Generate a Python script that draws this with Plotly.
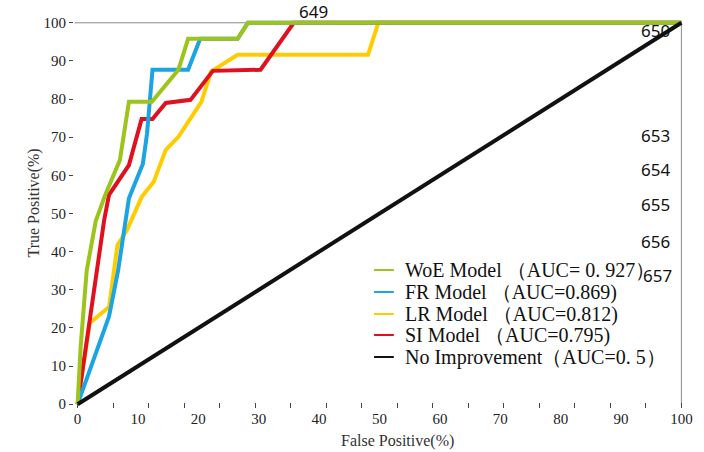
import plotly.graph_objects as go

# ---- data ----
woe_x = [0, 0.5, 1.5, 3.0, 4.6, 7.0, 8.5, 12.3, 16.7, 18.3, 26.5, 28.2, 100]
woe_y = [0, 15, 35, 48, 55, 64, 79.3, 79.3, 87.7, 95.8, 95.8, 100, 100]

fr_x = [0, 5.2, 6.7, 7.7, 8.5, 10.8, 11.5, 12.4, 18.3, 20.3, 26.5, 28.2, 100]
fr_y = [0, 23, 35, 46, 54, 63, 71, 87.7, 87.7, 95.8, 95.8, 100, 100]

lr_x = [0, 2.0, 5.2, 6.6, 8.2, 10.6, 12.6, 14.6, 16.7, 20.5, 22.1, 26.5, 48.1, 49.8, 100]
lr_y = [0, 21.3, 25.5, 41.7, 45.7, 54.3, 58.3, 66.7, 70.1, 79.3, 87.2, 91.6, 91.6, 100, 100]

si_x = [0, 4.4, 5.2, 8.5, 10.6, 12.4, 14.6, 18.7, 22.4, 30.3, 35.8, 100]
si_y = [0, 48.3, 54.9, 62.7, 74.8, 74.8, 79.0, 79.8, 87.4, 87.7, 100, 100]

ni_x = [0, 100]
ni_y = [0, 100]

names = ["WoE Model （AUC= 0. 927）", "FR Model （AUC=0.869)", "LR Model （AUC=0.812)",
         "SI Model （AUC=0.795)", "No Improvement（AUC=0. 5）"]
colors = ["#9DC41A", "#1AA5E2", "#FFCC00", "#E0101E", "#111111"]

x_ticks = list(range(0, 101, 10))
y_ticks = list(range(0, 101, 10))

page_numbers = ["649", "650", "653", "654", "655", "656", "657"]

# ---- figure ----
W, H = 704, 452
ml, mr, mt, mb = 74, 11, 19, 44

fig = go.Figure()

series = [(woe_x, woe_y), (fr_x, fr_y), (lr_x, lr_y), (si_x, si_y), (ni_x, ni_y)]
draw_order = [2, 3, 1, 0, 4]
for i in draw_order:
    xs, ys = series[i]
    fig.add_trace(go.Scatter(x=xs, y=ys, mode="lines", name=names[i], showlegend=False,
                             line=dict(color=colors[i], width=4), hoverinfo="skip"))

# frame: top and right gray lines
fig.add_shape(type="line", xref="x", yref="y", x0=-0.5, x1=100, y0=100, y1=100,
              line=dict(color="#8a8a8a", width=1), layer="below")
fig.add_shape(type="line", xref="x", yref="y", x0=100, x1=100, y0=0, y1=100,
              line=dict(color="#8a8a8a", width=1), layer="below")

def px2paper(px, py):
    return (px - ml) / (W - ml - mr), (H - mb - py) / (H - mt - mb)

serif = "Liberation Serif, Times New Roman, serif"

# legend (built as text + short line keys, to match the tight row spacing)
leg_x0, leg_x1, leg_tx = 378, 398, 407
leg_rows = [270, 292, 314, 335, 357]
for i, (name, col) in enumerate(zip(names, colors)):
    x0, y0 = px2paper(leg_x0, leg_rows[i])
    x1, _ = px2paper(leg_x1, leg_rows[i])
    fig.add_shape(type="line", xref="paper", yref="paper", x0=x0, x1=x1, y0=y0, y1=y0,
                  line=dict(color=col, width=2))
    tx, _ = px2paper(leg_tx, leg_rows[i])
    fig.add_annotation(text=name, xref="paper", yref="paper", x=tx, y=y0,
                       xanchor="left", yanchor="middle", showarrow=False,
                       font=dict(family=serif, size=20, color="#111"))

# axis titles
ax, ay = px2paper(402, 441)
fig.add_annotation(text="False Positive(%)", xref="paper", yref="paper", x=ax, y=ay,
                   xanchor="center", yanchor="middle",
                   showarrow=False, font=dict(family=serif, size=16, color="#333"))
ax, ay = px2paper(33, 203)
fig.add_annotation(text="True Positive(%)", xref="paper", yref="paper", x=ax, y=ay,
                   xanchor="center", yanchor="middle",
                   textangle=-90, showarrow=False, font=dict(family=serif, size=16, color="#333"))

# page / line number artifacts
pn_pos = [(317, 11, "center"), (646, 31, "left"), (646, 135, "left"), (646, 170, "left"),
          (646, 205, "left"), (646, 241, "left"), (648, 275, "left")]
for t, (px, py, anc) in zip(page_numbers, pn_pos):
    ax, ay = px2paper(px, py)
    fig.add_annotation(text=t, xref="paper", yref="paper", x=ax, y=ay, xanchor=anc,
                       yanchor="middle", showarrow=False,
                       font=dict(family="Noto Sans, sans-serif", size=17, color="#111"))

fig.update_layout(
    width=W, height=H,
    margin=dict(l=ml, r=mr, t=mt, b=mb),
    paper_bgcolor="white", plot_bgcolor="white",
    showlegend=False,
    xaxis=dict(range=[-0.6, 100.6], tickvals=x_ticks, ticks="", showgrid=False,
               zeroline=False, showline=False,
               tickfont=dict(family=serif, size=15, color="#222"),
               minor=dict(tick0=0, dtick=100 / 17, ticks="inside", ticklen=5,
                          tickcolor="#444", showgrid=False)),
    yaxis=dict(range=[-1, 101], tickvals=y_ticks, ticks="outside", ticklen=4,
               tickcolor="#444", showgrid=False, zeroline=False, showline=False,
               tickfont=dict(family=serif, size=15, color="#222")),
)

fig.write_html("out.html")
